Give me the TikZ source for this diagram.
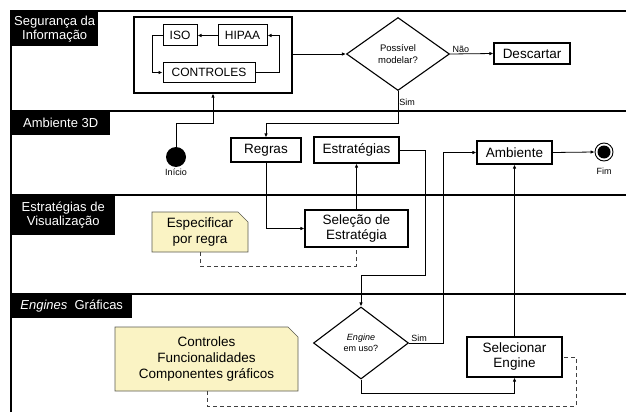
\documentclass[tikz,border=0pt]{standalone}
\usepackage{fontspec}
\setmainfont{Liberation Sans}
\usetikzlibrary{arrows.meta,shapes.geometric,shapes.misc}
\definecolor{notefill}{RGB}{250,243,196}
\definecolor{notedraw}{RGB}{90,90,80}
\begin{document}
\begin{tikzpicture}[x=1pt,y=-1pt,
  lane/.style={line width=1.4pt},
  lanelabel/.style={fill=black,text=white,inner sep=0pt,anchor=north west,align=center,font=\fontsize{13}{14}\selectfont},
  box/.style={draw,line width=1.1pt,inner sep=0pt,align=center,font=\fontsize{13.5}{15}\selectfont},
  sbox/.style={draw,line width=1pt,inner sep=0pt,font=\fontsize{12}{13}\selectfont},
  dec/.style={draw,diamond,line width=1.1pt,inner sep=0pt,align=center,font=\fontsize{9}{10.5}\selectfont},
  note/.style={draw=notedraw,fill=notefill,line width=0.6pt,chamfered rectangle,chamfered rectangle corners=north east,chamfered rectangle xsep=5pt,chamfered rectangle ysep=5pt,inner sep=0pt,align=center,font=\fontsize{13.5}{16}\selectfont},
  conn/.style={line width=0.8pt},
  arr/.style={conn,-{Latex[length=4pt,width=3.5pt]}},
  dsh/.style={line width=0.9pt,dashed,draw=black!75,dash pattern=on 4pt off 3pt},
  small/.style={font=\fontsize{9}{10}\selectfont,inner sep=1pt}
]
\useasboundingbox (0,0) rectangle (626,412);
% lanes
\draw[lane] (11,412) -- (11,11) -- (626,11);
\draw[lane] (11,111) -- (626,111);
\draw[lane] (11,195) -- (626,195);
\draw[lane] (11,294) -- (626,294);
\node[lanelabel,minimum width=87pt,minimum height=35pt] (l1) at (11,11) {Segurança da\\Informação};
\node[lanelabel,minimum width=99pt,minimum height=24pt] (l2) at (11,111) {Ambiente 3D};
\node[lanelabel,minimum width=104pt,minimum height=40pt] (l3) at (11,195) {Estratégias de\\Visualização};
\node[lanelabel,minimum width=121pt,minimum height=24pt] (l4) at (11,294) {\textit{Engines}\ \ Gráficas};
% security box
\node[draw,line width=1.2pt,minimum width=158pt,minimum height=76pt,inner sep=0pt] (sec) at (213,55) {};
\node[sbox,minimum width=34pt,minimum height=21pt] (iso) at (180,35.5) {ISO};
\node[sbox,minimum width=49pt,minimum height=21pt] (hipaa) at (242.5,35.5) {HIPAA};
\node[sbox,minimum width=92pt,minimum height=19pt] (ctrl) at (209,72.5) {CONTROLES};
\draw[arr] (hipaa.west) -- (iso.east);
\draw[arr] (ctrl.east) -- (279,72.5) |- (hipaa.east);
\draw[arr] (iso.west) -- (152,35.5) |- (ctrl.west);
% decision 1
\node[dec,minimum width=103pt,minimum height=73pt,aspect=1.41,font=\fontsize{9.5}{11.5}\selectfont] (d1) at (398,54) {Possível\\modelar?};
\node[box,minimum width=76pt,minimum height=21pt] (desc) at (532,53.5) {Descartar};
\draw[arr] (sec.east |- d1.west) -- (d1.west);
\draw[arr] (d1.east) -- node[small,above,pos=0.25] (nao) {Não} (desc.west);
% start/end
\node[circle,fill=black,minimum size=20pt,inner sep=0pt] (ini) at (176,157) {};
\node[small,anchor=north] (inilab) at (176,168) {Início};
\draw[arr] (ini.north) -- (176,123) -| (sec.south);
\node[circle,draw,line width=0.9pt,minimum size=18pt,inner sep=0pt] (fim) at (604,152) {};
\node[circle,fill=black,minimum size=13pt,inner sep=0pt] (fimin) at (fim.center) {};
\node[small,anchor=north] (fimlab) at (604,167) {Fim};
% ambiente 3D
\node[box,minimum width=70pt,minimum height=24pt] (regras) at (266,150) {Regras};
\node[box,minimum width=85pt,minimum height=26pt] (estr) at (356.5,150) {Estratégias};
\node[box,minimum width=75pt,minimum height=23pt] (amb) at (514.5,152.5) {Ambiente};
\draw[arr] (d1.south) -- node[small,right,pos=0.35] (sim1) {Sim} (398,123) -| (regras.north);
\draw[arr] (amb.east) -- (fim.west);
% estrategias
\node[box,minimum width=103pt,minimum height=37pt] (sel) at (356.5,228.5) {Seleção de\\Estratégia};
\node[note,minimum width=96pt,minimum height=40pt] (esp) at (200,232) {Especificar\\por regra};
\draw[arr] (regras.south) |- (sel.west);
\draw[arr] (sel.north) -- (estr.south);
\draw[dsh] (esp.south) -- (200,266) -| (sel.south);
% engines
\node[dec,minimum width=95pt,minimum height=72pt,aspect=1.32] (d2) at (361,343) {\textit{Engine}\\em uso?};
\node[box,minimum width=95pt,minimum height=40pt] (selec) at (514.5,357) {Selecionar\\Engine};
\node[note,minimum width=183pt,minimum height=64pt] (ctn) at (206.5,359) {Controles\\Funcionalidades\\Componentes gráficos};
\draw[arr] (estr.east) -- (425,150) -- (425,275) -| (d2.north);
\draw[arr] (d2.east) -- node[small,above,pos=0.3] (sim2) {Sim} (443,343) |- (amb.west);
\draw[arr] (d2.south) -- (361,393) -| (selec.south);
\draw[arr] (selec.north) -- (amb.south);
\draw[dsh] (207,391) -- (207,406) -- (576,406) -- (576,357) -- (selec.east);
\end{tikzpicture}
\end{document}
